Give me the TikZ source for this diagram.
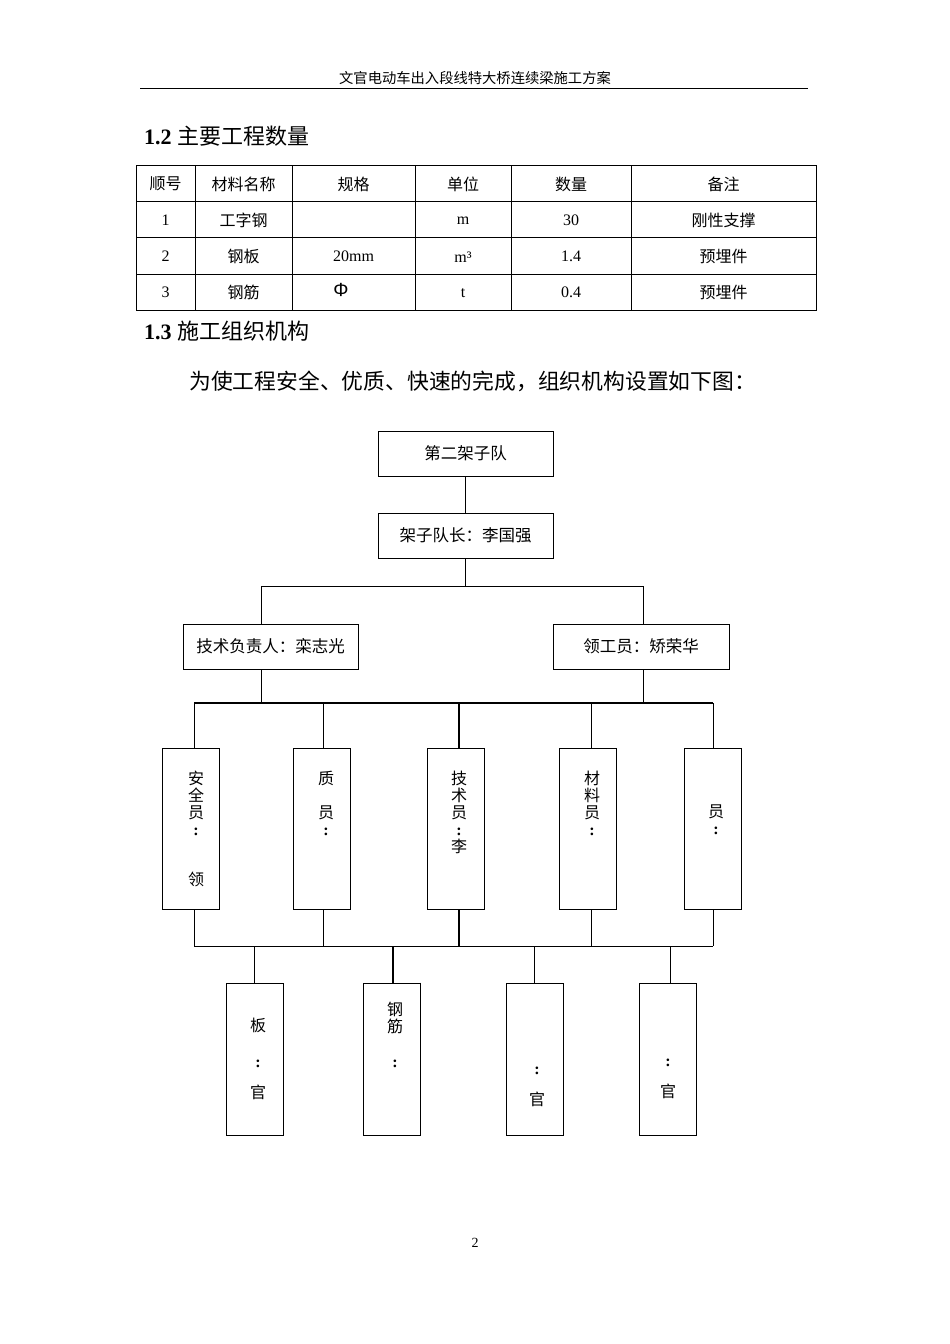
\documentclass[tikz,border=0pt]{standalone}
\usepackage{fontspec}
\setmainfont{Liberation Serif}
\newfontfamily\cjk{Noto Sans CJK SC}
\newfontfamily\sansphi{Liberation Sans}
\newcommand{\vcolon}{{\rmfamily\bfseries :}}
\begin{document}
\begin{tikzpicture}[x=1pt,y=-1pt,
  conn/.style={line width=0.9pt},
  thick conn/.style={line width=1.8pt},
  orgbox/.style={draw,line width=0.9pt,inner sep=0pt,font=\cjk\fontsize{16.5}{17}\selectfont},
  vbox/.style={draw,line width=0.9pt,inner sep=0pt,minimum width=57pt},
  vtext/.style={anchor=north,inner sep=0pt,align=center,font=\cjk\fontsize{16}{17}\selectfont},
  cell/.style={inner sep=0pt,font=\fontsize{16}{18}\selectfont},
  ccell/.style={inner sep=0pt,font=\cjk\fontsize{16}{18}\selectfont},
  grid/.style={line width=0.9pt}]
\useasboundingbox (0,0) rectangle (950,1344);
% header
\node[inner sep=0pt,font=\cjk\fontsize{14.3}{16}\selectfont] (hdr) at (475,78) {文官电动车出入段线特大桥连续梁施工方案};
\draw[line width=1.5pt] (140,88.5) -- (808,88.5);
% heading 1.2
\node[anchor=west,inner sep=0pt,font=\fontsize{22}{24}\selectfont] (h12) at (144,136) {\textbf{1.2} {\cjk 主要工程数量}};
% table
\draw[grid] (136,165) rectangle (816,310);
\foreach \yy in {201,237.5,274} \draw[grid] (136,\yy) -- (816,\yy);
\foreach \xx in {195,292,415,511,631} \draw[grid] (\xx,165) -- (\xx,310);
\node[ccell] (c11) at (165.5,184) {顺号};
\node[ccell] (c12) at (243.5,184) {材料名称};
\node[ccell] (c13) at (353.5,184) {规格};
\node[ccell] (c14) at (463,184) {单位};
\node[ccell] (c15) at (571,184) {数量};
\node[ccell] (c16) at (723.5,184) {备注};
\node[cell] (c21) at (165.5,220) {1};
\node[ccell] (c22) at (243.5,220) {工字钢};
\node[cell] (c24) at (463,221) {m};
\node[cell] (c25) at (571,220) {30};
\node[ccell] (c26) at (723.5,220) {刚性支撑};
\node[cell] (c31) at (165.5,256) {2};
\node[ccell] (c32) at (243.5,256) {钢板};
\node[cell] (c33) at (353.5,256) {20mm};
\node[cell] (c34) at (463,257) {m³};
\node[cell] (c35) at (571,256) {1.4};
\node[ccell] (c36) at (723.5,256) {预埋件};
\node[cell] (c41) at (165.5,292) {3};
\node[ccell] (c42) at (243.5,292) {钢筋};
\node[inner sep=0pt,font=\sansphi\fontsize{19}{20}\selectfont] (c43) at (341,290) {Φ};
\node[cell] (c44) at (463,293) {t};
\node[cell] (c45) at (571,292) {0.4};
\node[ccell] (c46) at (723.5,292) {预埋件};
% heading 1.3
\node[anchor=west,inner sep=0pt,font=\fontsize{22}{24}\selectfont] (h13) at (144,331) {\textbf{1.3} {\cjk 施工组织机构}};
\node[anchor=west,inner sep=0pt,font=\cjk\fontsize{21.8}{24}\selectfont] (sent) at (189,381) {为使工程安全、优质、快速的完成，组织机构设置如下图：};
% org chart top
\node[orgbox,minimum width=175pt,minimum height=45pt] (b1) at (465.5,453.5) {第二架子队};
\node[orgbox,minimum width=175pt,minimum height=45pt] (b2) at (465.5,535.5) {架子队长：李国强};
\node[orgbox,minimum width=175pt,minimum height=45pt] (b3) at (270.5,646.5) {技术负责人：栾志光};
\node[orgbox,minimum width=176pt,minimum height=45pt] (b4) at (641,646.5) {领工员：矫荣华};
\draw[conn] (b1.south) -- (b2.north);
\coordinate (hL) at (261,586);
\coordinate (hR) at (643,586);
\draw[conn] (b2.south) -- (b2.south |- hL);
\draw[conn] (hL) -- (hR);
\draw[conn] (hL) -- (hL |- b3.north);
\draw[conn] (hR) -- (hR |- b4.north);
% upper bus
\coordinate (u1) at (194,703);
\coordinate (u2) at (323,703);
\coordinate (u3) at (459,703);
\coordinate (u4) at (591,703);
\coordinate (u5) at (713,703);
\draw[conn] (hL |- b3.south) -- (hL |- u1);
\draw[conn] (hR |- b4.south) -- (hR |- u1);
\draw[line width=2pt] (u1) -- (u5);
% vertical boxes
\node[vbox,minimum height=161pt] (v1) at (190.5,828.5) {};
\node[vbox,minimum height=161pt] (v2) at (321.5,828.5) {};
\node[vbox,minimum height=161pt] (v3) at (455.5,828.5) {};
\node[vbox,minimum height=161pt] (v4) at (588,828.5) {};
\node[vbox,minimum height=161pt] (v5) at (713,828.5) {};
\node[vtext] (t1) at (196,771) {安\\全\\员\\\vcolon\\[33pt]领};
\node[vtext] (t2) at (326,771) {质\\[17pt]员\\\vcolon};
\node[vtext] (t3) at (459,771) {技\\术\\员\\\vcolon\\李};
\node[vtext] (t4) at (592,771) {材\\料\\员\\\vcolon};
\node[vtext] (t5) at (716,805) {员\\\vcolon};
\draw[conn] (u1) -- (u1 |- v1.north);
\draw[conn] (u2) -- (u2 |- v2.north);
\draw[thick conn] (u3) -- (u3 |- v3.north);
\draw[conn] (u4) -- (u4 |- v4.north);
\draw[conn] (u5) -- (u5 |- v5.north);
% lower bus
\coordinate (l1) at (194,946);
\coordinate (l5) at (713,946);
\draw[conn] (u1 |- v1.south) -- (l1);
\draw[conn] (u2 |- v2.south) -- (u2 |- l1);
\draw[thick conn] (u3 |- v3.south) -- (u3 |- l1);
\draw[conn] (u4 |- v4.south) -- (u4 |- l1);
\draw[conn] (u5 |- v5.south) -- (l5);
\draw[conn] (l1) -- (l5);
% bottom boxes
\node[vbox,minimum height=152pt] (w1) at (254.5,1059) {};
\node[vbox,minimum height=152pt] (w2) at (391.5,1059) {};
\node[vbox,minimum height=152pt] (w3) at (535,1059) {};
\node[vbox,minimum height=152pt] (w4) at (668,1059) {};
\draw[line width=1.8pt] (w2.north east) -- (w2.south east);
\node[vtext] (s1) at (258,1018) {板\\[19pt]\vcolon\\[14pt]官};
\node[vtext] (s2) at (395,1002) {钢\\筋\\[18pt]\vcolon};
\node[vtext] (s3) at (537,1067) {\vcolon\\[14pt]官};
\node[vtext] (s4) at (668,1059) {\vcolon\\[14pt]官};
\coordinate (d1) at (254,946);
\coordinate (d2) at (393,946);
\coordinate (d3) at (534,946);
\coordinate (d4) at (670,946);
\draw[conn] (d1) -- (d1 |- w1.north);
\draw[thick conn] (d2) -- (d2 |- w2.north);
\draw[conn] (d3) -- (d3 |- w3.north);
\draw[conn] (d4) -- (d4 |- w4.north);
% page number
\node[inner sep=0pt,font=\fontsize{14}{16}\selectfont] (pg) at (475,1243) {2};
\end{tikzpicture}
\end{document}
